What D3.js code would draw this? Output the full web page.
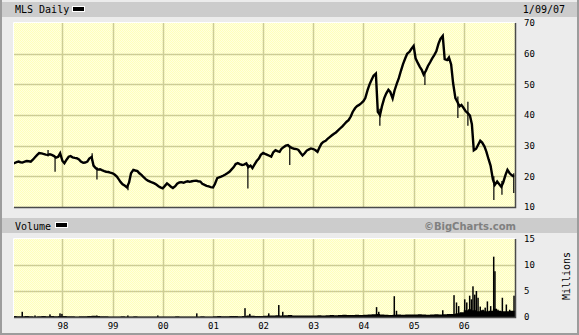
<!DOCTYPE html>
<html>
<head>
<meta charset="utf-8">
<script src="https://cdn.jsdelivr.net/npm/d3@7"></script>
<style>
  body { margin: 0; background: #ececec; }
  text { font-family: "DejaVu Sans Mono", monospace; fill: #000; }
</style>
</head>
<body>
<div id="chart"></div>
<script>
// SVG setup
let svgWidth = 579;
let svgHeight = 335;

// price plot and volume plot boxes
let plotLeft = 14;
let plotRight = 515;
let priceTop = 23;
let priceBottom = 207;
let volTop = 239;
let volBottom = 317;

// Half-month closes (1st and 15th of each month)
let p1997 = [24.2, 24.3, 24.6, 24.8, 24.6, 24.5, 24.8, 25.0, 24.9, 24.8, 25.5, 26.2, 27.0, 27.6, 27.5, 27.3, 27.1, 27.0, 27.2, 27.0, 26.6, 26.1, 26.4, 27.5];
let p1998 = [25.0, 24.3, 25.5, 26.4, 26.6, 26.2, 26.0, 25.9, 25.5, 24.8, 24.4, 24.5, 24.8, 25.8, 26.3, 23.5, 22.6, 22.2, 22.3, 22.0, 21.7, 21.5, 21.4, 21.2];
let p1999 = [21.0, 20.6, 19.9, 19.0, 18.1, 17.4, 16.9, 16.4, 18.0, 21.0, 22.1, 21.9, 21.7, 21.0, 20.4, 19.7, 19.0, 18.6, 18.3, 18.0, 17.7, 17.3, 16.8, 16.4];
let p2000 = [16.1, 16.8, 17.7, 17.2, 16.6, 16.2, 16.8, 17.6, 18.0, 18.1, 17.9, 18.2, 18.4, 18.2, 18.4, 18.5, 18.6, 18.4, 18.3, 17.6, 17.2, 16.9, 16.7, 16.5];
let p2001 = [16.4, 17.5, 19.4, 19.7, 19.9, 20.2, 20.6, 21.0, 21.5, 22.2, 23.0, 24.0, 24.3, 24.0, 23.7, 23.8, 24.2, 23.0, 23.5, 22.7, 24.0, 25.0, 25.8, 27.0];
let p2002 = [27.6, 27.3, 27.0, 26.7, 26.4, 27.8, 28.5, 28.2, 28.0, 29.0, 29.6, 30.0, 30.2, 29.6, 29.2, 29.0, 28.9, 28.6, 27.6, 26.8, 27.6, 28.4, 28.8, 29.1];
let p2003 = [28.9, 28.6, 28.0, 29.4, 30.6, 31.2, 31.6, 32.2, 32.8, 33.3, 33.9, 34.3, 35.0, 35.6, 36.3, 37.0, 37.8, 38.3, 39.5, 41.0, 42.2, 42.9, 43.3, 43.8];
let p2004 = [44.5, 45.5, 48.2, 50.0, 51.5, 52.8, 53.5, 41.0, 40.0, 42.8, 45.5, 47.0, 48.2, 47.5, 45.4, 48.0, 50.3, 52.0, 54.5, 56.5, 58.5, 60.0, 60.6, 61.5];
let p2005 = [62.5, 58.5, 56.9, 55.7, 54.7, 53.2, 54.5, 56.0, 57.2, 58.4, 59.6, 60.8, 63.3, 64.8, 65.8, 58.2, 57.9, 58.8, 56.5, 50.5, 45.5, 44.3, 42.8, 43.3];
let p2006 = [42.2, 41.2, 40.5, 39.8, 37.0, 28.5, 29.0, 30.2, 31.6, 31.0, 29.7, 28.0, 25.5, 23.5, 19.0, 17.2, 18.3, 17.5, 16.6, 18.0, 20.5, 22.1, 21.0, 20.4];
let p2007 = [19.9];

// Single-day high/low spikes: [date, low, high]
let priceSpikes = [
  ['1997-09-18', 26.5, 28.6],
  ['1997-11-08', 21.5, 26.5],
  ['1998-08-05', 25.0, 27.5],
  ['1998-09-09', 19.0, 23.0],
  ['1999-04-23', 15.5, 17.5],
  ['2001-09-12', 16.0, 24.0],
  ['2002-07-14', 23.7, 30.0],
  ['2004-04-30', 36.5, 42.0],
  ['2005-03-24', 49.8, 54.0],
  ['2005-11-19', 39.0, 46.0],
  ['2006-01-31', 36.5, 44.3],
  ['2006-08-08', 12.3, 20.0],
  ['2006-10-06', 14.0, 18.5],
  ['2006-12-31', 14.6, 21.0]
];

// Monthly base volume (millions)
let v1997 = [0.2, 0.15, 0.15, 0.2, 0.15, 0.1, 0.15, 0.2, 0.15, 0.2, 0.15, 0.2];
let v1998 = [0.2, 0.15, 0.15, 0.1, 0.15, 0.15, 0.2, 0.25, 0.2, 0.15, 0.15, 0.1];
let v1999 = [0.1, 0.1, 0.15, 0.1, 0.1, 0.15, 0.1, 0.1, 0.1, 0.1, 0.1, 0.1];
let v2000 = [0.1, 0.1, 0.1, 0.15, 0.1, 0.1, 0.1, 0.1, 0.1, 0.15, 0.1, 0.1];
let v2001 = [0.15, 0.2, 0.15, 0.15, 0.2, 0.2, 0.15, 0.2, 0.3, 0.25, 0.2, 0.2];
let v2002 = [0.25, 0.3, 0.3, 0.35, 0.3, 0.35, 0.4, 0.3, 0.3, 0.3, 0.3, 0.3];
let v2003 = [0.3, 0.35, 0.3, 0.35, 0.4, 0.35, 0.4, 0.45, 0.4, 0.4, 0.45, 0.4];
let v2004 = [0.45, 0.5, 0.55, 0.6, 0.5, 0.45, 0.4, 0.45, 0.5, 0.45, 0.5, 0.5];
let v2005 = [0.5, 0.55, 0.5, 0.45, 0.5, 0.55, 0.5, 0.55, 0.6, 0.6, 0.7, 0.9];
let v2006 = [1.3, 1.5, 1.3, 1.1, 1.3, 1.1, 1.2, 1.6, 1.2, 1.1, 1.1, 1.2];

// Heavy volume days: [date, millions]
let volSpikes = [
  ['1997-03-14', 1.0], ['1997-06-15', 0.3], ['1997-10-02', 0.5], ['1997-12-14', 0.7],
  ['1997-12-28', 0.6], ['1998-09-08', 0.3], ['1999-04-22', 0.3], ['1999-11-26', 0.3],
  ['2000-09-05', 0.7], ['2001-08-22', 1.7], ['2001-09-26', 0.6], ['2002-02-11', 0.7],
  ['2002-04-25', 2.3], ['2002-05-24', 1.0], ['2004-04-06', 1.9], ['2004-04-22', 1.0],
  ['2004-08-13', 4.0], ['2004-08-29', 1.2], ['2005-08-01', 1.3], ['2005-10-22', 4.2],
  ['2005-11-09', 2.8], ['2005-11-25', 2.1], ['2006-01-08', 3.4], ['2006-01-23', 2.8],
  ['2006-02-13', 4.1], ['2006-02-26', 3.4], ['2006-03-09', 5.9], ['2006-03-22', 4.3],
  ['2006-04-03', 5.0], ['2006-04-15', 3.7], ['2006-05-01', 2.0], ['2006-05-21', 1.4],
  ['2006-06-06', 1.8], ['2006-06-22', 3.0], ['2006-07-16', 2.1], ['2006-08-07', 11.6],
  ['2006-08-16', 8.8], ['2006-09-07', 1.4], ['2006-10-09', 3.7], ['2006-11-07', 2.4],
  ['2006-12-01', 1.4], ['2007-01-02', 4.1]
];

// Tick labels
let yearTicks = ['1998', '1999', '2000', '2001', '2002', '2003', '2004', '2005', '2006'];
let priceTicks = [10, 20, 30, 40, 50, 60, 70];
let volTicks = [0, 5, 10, 15];

let parseDay = d3.timeParse('%Y-%m-%d');

// Build rows from the yearly arrays
let priceData = [];
[[1997, p1997], [1998, p1998], [1999, p1999], [2000, p2000], [2001, p2001],
 [2002, p2002], [2003, p2003], [2004, p2004], [2005, p2005], [2006, p2006], [2007, p2007]]
  .forEach(function([yr, arr]) {
    arr.forEach(function(v, k) {
      priceData.push({ date: new Date(yr, Math.floor(k / 2), k % 2 ? 15 : 1), close: v });
    });
  });

let volData = [];
[[1997, v1997], [1998, v1998], [1999, v1999], [2000, v2000], [2001, v2001],
 [2002, v2002], [2003, v2003], [2004, v2004], [2005, v2005], [2006, v2006]]
  .forEach(function([yr, arr]) {
    arr.forEach(function(v, m) {
      volData.push({ date: new Date(yr, m, 1), vol: v });
    });
  });
volData.push({ date: new Date(2007, 0, 9), vol: 1.2 });

// scales
let x = d3.scaleTime()
  .domain([new Date(1997, 0, 13), new Date(2007, 0, 9)])
  .range([plotLeft, plotRight]);

let yPrice = d3.scaleLinear().domain([10, 70]).range([priceBottom, priceTop]);
let yVol = d3.scaleLinear().domain([0, 15]).range([volBottom, volTop]);

let svg = d3.select('#chart').append('svg')
  .attr('width', svgWidth)
  .attr('height', svgHeight);

// dotted yellow fill
let defs = svg.append('defs');
let pat = defs.append('pattern')
  .attr('id', 'dither')
  .attr('width', 2).attr('height', 2)
  .attr('patternUnits', 'userSpaceOnUse');
pat.append('rect').attr('width', 2).attr('height', 2).attr('fill', '#ffffe0');
pat.append('rect').attr('width', 1).attr('height', 1).attr('fill', '#ffffbb');
pat.append('rect').attr('x', 1).attr('y', 1).attr('width', 1).attr('height', 1).attr('fill', '#ffffbb');

defs.append('clipPath').attr('id', 'clipPrice')
  .append('rect').attr('x', plotLeft).attr('y', priceTop)
  .attr('width', plotRight - plotLeft).attr('height', priceBottom - priceTop);
defs.append('clipPath').attr('id', 'clipVol')
  .append('rect').attr('x', plotLeft).attr('y', volTop)
  .attr('width', plotRight - plotLeft).attr('height', volBottom - volTop);

// background and frame
svg.append('rect').attr('width', svgWidth).attr('height', svgHeight).attr('fill', '#ececec');
svg.append('rect').attr('x', 0).attr('y', 0).attr('width', 2).attr('height', svgHeight).attr('fill', '#9c9c9c');
svg.append('rect').attr('x', 0).attr('y', svgHeight - 2).attr('width', svgWidth).attr('height', 2).attr('fill', '#9c9c9c');
svg.append('rect').attr('x', svgWidth - 2).attr('y', 0).attr('width', 2).attr('height', svgHeight).attr('fill', '#9c9c9c');

// header bars
svg.append('rect').attr('x', 2).attr('y', 2).attr('width', svgWidth - 4).attr('height', 15).attr('fill', '#cccccc');
svg.append('rect').attr('x', 2).attr('y', 218).attr('width', svgWidth - 4).attr('height', 15).attr('fill', '#cccccc');

// plot panels
function panel(top, bottom) {
  svg.append('rect')
    .attr('x', plotLeft).attr('y', top)
    .attr('width', plotRight - plotLeft).attr('height', bottom - top)
    .attr('fill', 'url(#dither)');
  svg.append('path')
    .attr('d', `M${plotLeft - 0.5},${bottom} V${top - 0.5} H${plotRight}`)
    .attr('fill', 'none').attr('stroke', '#ffffff').attr('stroke-width', 1);
}
panel(priceTop, priceBottom);
panel(volTop, volBottom);

// grid
let gridColor = '#cdcd96';
let yearDates = yearTicks.map(y => new Date(+y, 0, 1));

function vGrid(top, bottom) {
  svg.append('g').selectAll('line')
    .data(yearDates)
    .enter()
    .append('line')
    .attr('x1', d => Math.round(x(d)) + 0.5)
    .attr('x2', d => Math.round(x(d)) + 0.5)
    .attr('y1', top).attr('y2', bottom)
    .attr('stroke', gridColor).attr('stroke-width', 1.5);
}
vGrid(priceTop, priceBottom);
vGrid(volTop, volBottom);

svg.append('g').selectAll('line')
  .data(priceTicks.filter(d => d > 10 && d < 70))
  .enter()
  .append('line')
  .attr('x1', plotLeft).attr('x2', plotRight)
  .attr('y1', d => Math.round(yPrice(d)) + 0.5)
  .attr('y2', d => Math.round(yPrice(d)) + 0.5)
  .attr('stroke', gridColor).attr('stroke-width', 1.5);

svg.append('g').selectAll('line')
  .data(volTicks.filter(d => d > 0 && d < 15))
  .enter()
  .append('line')
  .attr('x1', plotLeft).attr('x2', plotRight)
  .attr('y1', d => Math.round(yVol(d)) + 0.5)
  .attr('y2', d => Math.round(yVol(d)) + 0.5)
  .attr('stroke', gridColor).attr('stroke-width', 1.5);

// price line
let priceG = svg.append('g').attr('clip-path', 'url(#clipPrice)');

priceG.append('path')
  .datum(priceData)
  .attr('fill', 'none')
  .attr('stroke', '#000')
  .attr('stroke-width', 2.4)
  .attr('stroke-linejoin', 'miter')
  .attr('d', d3.line().x(d => x(d.date)).y(d => yPrice(d.close)));

priceG.selectAll('.spike')
  .data(priceSpikes)
  .enter()
  .append('line')
  .attr('x1', d => x(parseDay(d[0])))
  .attr('x2', d => x(parseDay(d[0])))
  .attr('y1', d => yPrice(d[1]))
  .attr('y2', d => yPrice(d[2]))
  .attr('stroke', '#000')
  .attr('stroke-width', 1.2);

// volume
let volG = svg.append('g').attr('clip-path', 'url(#clipVol)');

volG.append('path')
  .datum(volData)
  .attr('fill', '#000')
  .attr('d', d3.area().curve(d3.curveStepAfter)
    .x(d => x(d.date)).y0(yVol(0)).y1(d => yVol(d.vol)));

volG.selectAll('.vspike')
  .data(volSpikes)
  .enter()
  .append('rect')
  .attr('x', d => x(parseDay(d[0])) - 0.75)
  .attr('width', 1.5)
  .attr('y', d => yVol(d[1]))
  .attr('height', d => yVol(0) - yVol(d[1]))
  .attr('fill', '#000');

// dark frame at bottom / right
function shade(top, bottom) {
  svg.append('path')
    .attr('d', `M${plotLeft},${bottom + 0.5} H${plotRight + 0.5} V${top}`)
    .attr('fill', 'none').attr('stroke', '#4a4a4a').attr('stroke-width', 1.5);
}
shade(priceTop, priceBottom);
shade(volTop, volBottom);

// axes
let priceAxis = svg.append('g')
  .attr('transform', `translate(${plotRight},0)`)
  .call(d3.axisRight(yPrice).tickValues(priceTicks).tickSize(0).tickPadding(9));
let volAxis = svg.append('g')
  .attr('transform', `translate(${plotRight},0)`)
  .call(d3.axisRight(yVol).tickValues(volTicks).tickSize(0).tickPadding(9));
let xAxis = svg.append('g')
  .attr('transform', `translate(0,${volBottom})`)
  .call(d3.axisBottom(x).tickValues(yearDates).tickFormat(d3.timeFormat('%y')).tickSize(0).tickPadding(6));

[priceAxis, volAxis, xAxis].forEach(function(g) {
  g.select('.domain').remove();
  g.attr('font-family', '"DejaVu Sans Mono", monospace').attr('font-size', 9);
  g.selectAll('text').attr('fill', '#000');
});

// header texts
svg.append('text').attr('x', 15).attr('y', 13).attr('font-size', 10).text('MLS Daily');
svg.append('rect').attr('x', 72.5).attr('y', 6.5).attr('width', 12).attr('height', 5).attr('fill', '#000').attr('stroke', '#fff');
svg.append('text').attr('x', 565).attr('y', 13).attr('font-size', 10).attr('text-anchor', 'end').text('1/09/07');

svg.append('text').attr('x', 15).attr('y', 229.5).attr('font-size', 10).text('Volume');
svg.append('rect').attr('x', 55.5).attr('y', 222.5).attr('width', 12).attr('height', 5).attr('fill', '#000').attr('stroke', '#fff');
svg.append('text').attr('x', 516).attr('y', 229.5)
  .attr('text-anchor', 'end')
  .style('font-family', '"DejaVu Sans", sans-serif')
  .attr('font-size', 10).attr('font-weight', 'bold')
  .style('fill', '#808080')
  .text('\u00A9BigCharts.com');

svg.append('text')
  .attr('transform', 'translate(570,276) rotate(-90)')
  .attr('text-anchor', 'middle')
  .attr('font-size', 10)
  .text('Millions');
</script>
</body>
</html>
